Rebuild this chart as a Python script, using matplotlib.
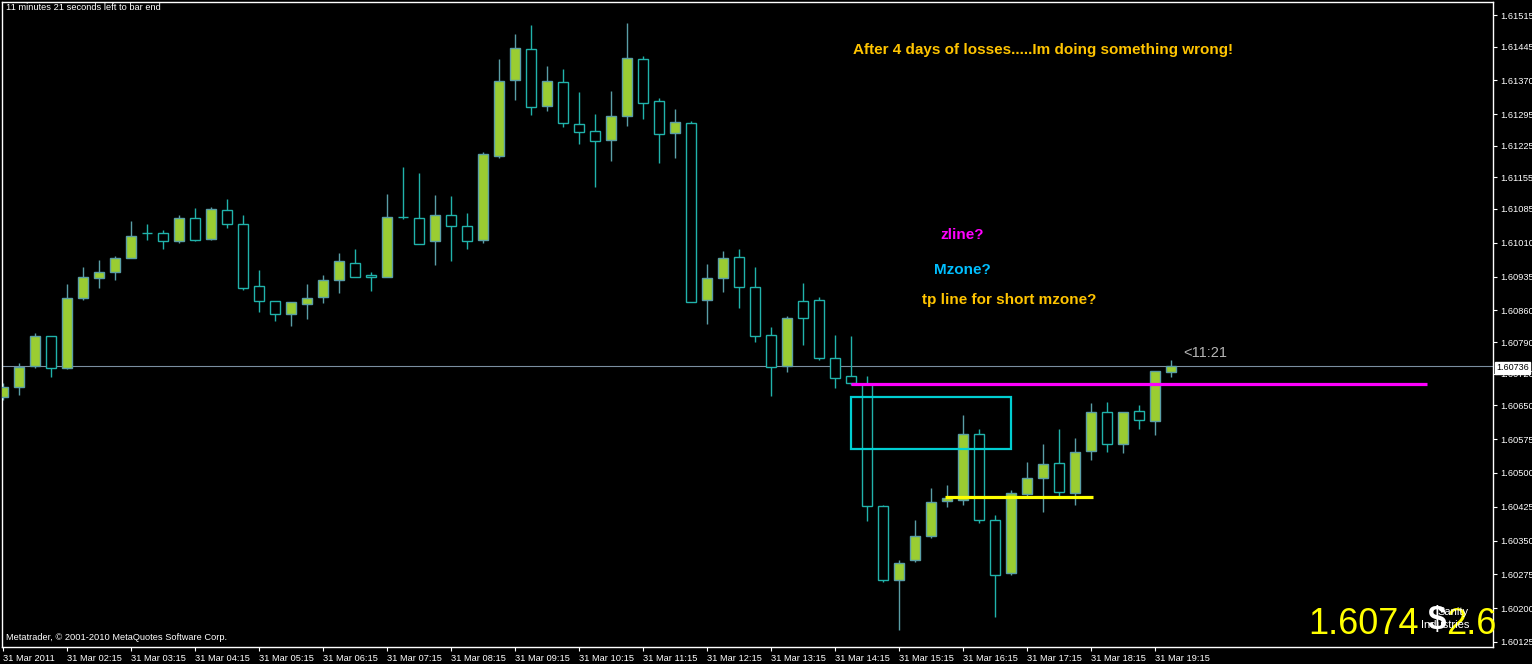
import matplotlib
matplotlib.use("Agg")
import matplotlib.pyplot as plt
from matplotlib.patches import Rectangle

plt.rcParams['font.family'] = ['Liberation Sans', 'DejaVu Sans']

# GBPUSD-ish M15 bars, 31 Mar 2011 01:15 .. 19:30
opens = [1.60668, 1.60690, 1.60737, 1.60803, 1.60732, 1.60888, 1.60932, 1.60945, 1.60976, 1.61032,
         1.61032, 1.61014, 1.61065, 1.61018, 1.61083, 1.61052, 1.60914, 1.60881, 1.60852, 1.60874,
         1.60890, 1.60928, 1.60965, 1.60939, 1.60934, 1.61067, 1.61065, 1.61014, 1.61072, 1.61047,
         1.61016, 1.61202, 1.61371, 1.61440, 1.61313, 1.61366, 1.61273, 1.61258, 1.61238, 1.61291,
         1.61417, 1.61324, 1.61253, 1.61276, 1.60883, 1.60932, 1.60978, 1.60912, 1.60806, 1.60737,
         1.60881, 1.60883, 1.60755, 1.60715, 1.60697, 1.60426, 1.60262, 1.60307, 1.60360, 1.60438,
         1.60440, 1.60586, 1.60395, 1.60278, 1.60453, 1.60488, 1.60522, 1.60455, 1.60548, 1.60635,
         1.60564, 1.60637, 1.60615, 1.60724]
highs = [1.60699, 1.60743, 1.60810, 1.60803, 1.60919, 1.60956, 1.60972, 1.60981, 1.61058, 1.61052,
         1.61038, 1.61072, 1.61087, 1.61089, 1.61107, 1.61072, 1.60950, 1.60881, 1.60879, 1.60919,
         1.60939, 1.60987, 1.60996, 1.60945, 1.61118, 1.61178, 1.61165, 1.61116, 1.61114, 1.61076,
         1.61211, 1.61417, 1.61473, 1.61493, 1.61402, 1.61395, 1.61344, 1.61296, 1.61347, 1.61497,
         1.61424, 1.61331, 1.61307, 1.61280, 1.60963, 1.60992, 1.60996, 1.60956, 1.60823, 1.60848,
         1.60921, 1.60890, 1.60806, 1.60803, 1.60715, 1.60429, 1.60307, 1.60395, 1.60466, 1.60473,
         1.60628, 1.60597, 1.60406, 1.60462, 1.60524, 1.60564, 1.60597, 1.60577, 1.60655, 1.60657,
         1.60635, 1.60650, 1.60726, 1.60750]
lows = [1.60661, 1.60673, 1.60732, 1.60713, 1.60730, 1.60883, 1.60910, 1.60928, 1.60976, 1.61016,
        1.60996, 1.61010, 1.61014, 1.61017, 1.61043, 1.60905, 1.60857, 1.60837, 1.60826, 1.60841,
        1.60877, 1.60899, 1.60934, 1.60903, 1.60934, 1.61063, 1.61007, 1.60961, 1.60970, 1.60996,
        1.61010, 1.61198, 1.61327, 1.61293, 1.61302, 1.61267, 1.61229, 1.61134, 1.61191, 1.61269,
        1.61284, 1.61187, 1.61198, 1.60878, 1.60830, 1.60901, 1.60865, 1.60790, 1.60670, 1.60724,
        1.60783, 1.60750, 1.60688, 1.60695, 1.60393, 1.60258, 1.60152, 1.60302, 1.60356, 1.60424,
        1.60429, 1.60389, 1.60180, 1.60273, 1.60444, 1.60413, 1.60444, 1.60429, 1.60529, 1.60546,
        1.60544, 1.60597, 1.60584, 1.60713]
closes = [1.60690, 1.60735, 1.60803, 1.60732, 1.60888, 1.60934, 1.60945, 1.60976, 1.61025, 1.61032,
          1.61014, 1.61065, 1.61016, 1.61085, 1.61052, 1.60910, 1.60881, 1.60852, 1.60879, 1.60888,
          1.60928, 1.60970, 1.60934, 1.60934, 1.61067, 1.61067, 1.61007, 1.61072, 1.61047, 1.61014,
          1.61207, 1.61369, 1.61442, 1.61311, 1.61369, 1.61276, 1.61256, 1.61236, 1.61291, 1.61420,
          1.61320, 1.61251, 1.61278, 1.60879, 1.60932, 1.60976, 1.60912, 1.60803, 1.60735, 1.60843,
          1.60843, 1.60755, 1.60710, 1.60699, 1.60426, 1.60262, 1.60300, 1.60360, 1.60435, 1.60444,
          1.60586, 1.60395, 1.60273, 1.60455, 1.60488, 1.60520, 1.60457, 1.60546, 1.60635, 1.60564,
          1.60635, 1.60617, 1.60726, 1.60736]

time_labels = ["31 Mar 2011", "31 Mar 02:15", "31 Mar 03:15", "31 Mar 04:15", "31 Mar 05:15",
               "31 Mar 06:15", "31 Mar 07:15", "31 Mar 08:15", "31 Mar 09:15", "31 Mar 10:15",
               "31 Mar 11:15", "31 Mar 12:15", "31 Mar 13:15", "31 Mar 14:15", "31 Mar 15:15",
               "31 Mar 16:15", "31 Mar 17:15", "31 Mar 18:15", "31 Mar 19:15"]
price_ticks = [1.61515, 1.61445, 1.61370, 1.61295, 1.61225, 1.61155, 1.61085, 1.61010, 1.60935,
               1.60860, 1.60790, 1.60720, 1.60650, 1.60575, 1.60500, 1.60425, 1.60350, 1.60275,
               1.60200, 1.60125]

bid = 1.60736
zline = 1.60698          # magenta
zline_from, zline_to = 53, 89
mzone_top, mzone_bottom = 1.60668, 1.60553
mzone_from, mzone_to = 53, 63
tp_line = 1.60447        # yellow
tp_from, tp_to = 58.9, 68.1

W, H = 1532, 664
fig = plt.figure(figsize=(W / 100, H / 100), dpi=100, facecolor='black')
ax = fig.add_axes([2 / W, 17 / H, 1491 / W, 645 / H], facecolor='black')

bull_face = '#9acd32'
bull_edge = '#5a9ea6'
bear_edge = '#20b2aa'

for i in range(len(opens)):
    o, h, l, c = opens[i], highs[i], lows[i], closes[i]
    up = c > o
    edge = bull_edge if up else bear_edge
    ax.vlines(i, l, h, color=edge, lw=1, zorder=2)
    ax.add_patch(Rectangle((i - 0.31, min(o, c)), 0.62, abs(c - o),
                           facecolor=bull_face if up else 'black',
                           edgecolor=edge, lw=1, zorder=3))

ax.axhline(bid, color='#7a8ea0', lw=0.8, zorder=1)
ax.hlines(zline, zline_from, zline_to, color='#ff00ff', lw=2.3, zorder=4)
ax.hlines(tp_line, tp_from, tp_to, color='#ffff00', lw=2.3, zorder=4)
ax.add_patch(Rectangle((mzone_from, mzone_bottom), mzone_to - mzone_from, mzone_top - mzone_bottom,
                       fill=False, edgecolor='#00ced1', lw=1.6, zorder=4))

ax.set_xlim(-0.0625, 93.125)
ax.set_ylim(1.601139, 1.615439)

for s in ax.spines.values():
    s.set_color('white')
    s.set_linewidth(1)

ax.yaxis.tick_right()
ax.set_yticks(price_ticks)
ax.set_yticklabels([f"{p:.5f}" for p in price_ticks])
ax.set_xticks(range(0, 4 * len(time_labels), 4))
ax.set_xticklabels(time_labels, ha='left')
ax.tick_params(colors='white', labelcolor='white', labelsize=6.7, length=3, width=0.8, pad=2)


def label(px, py, s, **kw):
    fig.text(px / W, 1 - py / H, s, **kw)


label(1496, 368, "1.60736", color='black', fontsize=6.5, va='center',
      bbox=dict(boxstyle='square,pad=0.15', facecolor='white', edgecolor='white'))
label(6, 8, "11 minutes 21 seconds left to bar end", color='white', fontsize=6.7, va='center')
label(6, 638, "Metatrader, \u00a9 2001-2010 MetaQuotes Software Corp.", color='white', fontsize=6.7, va='center')

note = dict(fontsize=11, fontweight='bold', ha='center', va='center')
label(1043, 50, "After 4 days of losses.....Im doing something wrong!", color='#ffc400', **note)
label(962, 235, "zline?", color='#ff00ff', **note)
label(962, 270, "Mzone?", color='#00bfff', **note)
label(1009, 300, "tp line for short mzone?", color='#ffc400', **note)
label(1183, 353, "<11:21", color='#b4b4b4', fontsize=10.5, va='center')

# indicator readout, bottom right (overlapping as in the terminal)
label(1308, 624, "1.6074", color='#ffff00', fontsize=26, va='center')
label(1446, 624, "2.6", color='#ffff00', fontsize=26, va='center')
label(1437, 612, "Sanity", color='white', fontsize=8, va='center')
label(1421, 625, "Industries", color='white', fontsize=8, va='center')
label(1428, 620, "$", color='white', fontsize=24, fontweight='bold', va='center')

fig.savefig("out.png", dpi=100, facecolor='black')
